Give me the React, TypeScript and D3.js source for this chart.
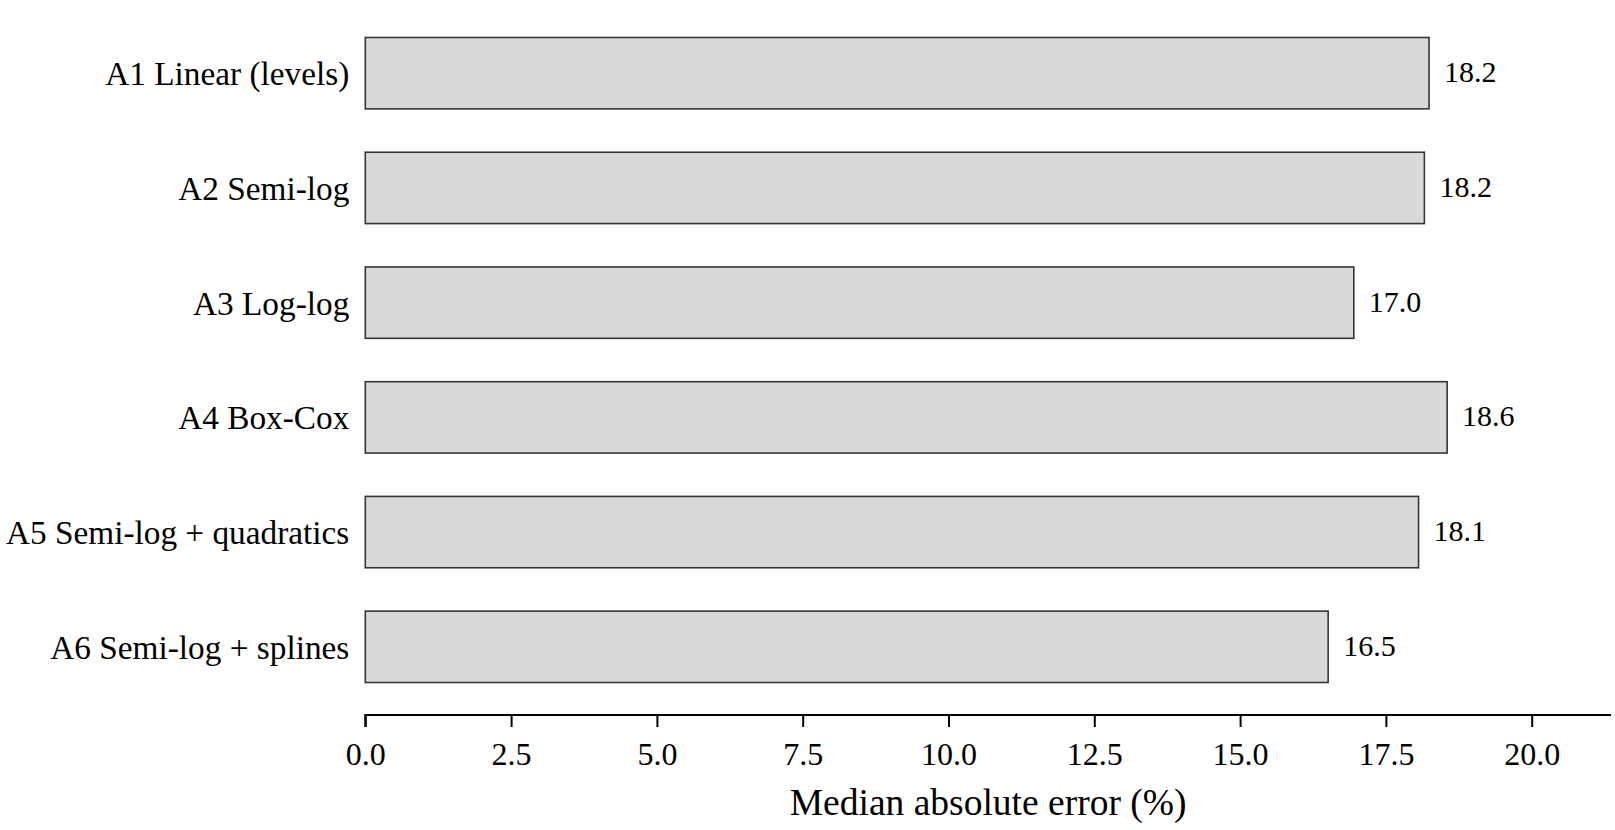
import React, { useEffect, useRef } from "react";
import * as d3 from "d3";

const categories = [
  "A1 Linear (levels)",
  "A2 Semi-log",
  "A3 Log-log",
  "A4 Box-Cox",
  "A5 Semi-log + quadratics",
  "A6 Semi-log + splines",
];
const values = [18.24, 18.16, 16.95, 18.55, 18.06, 16.51];
const valueLabels = ["18.2", "18.2", "17.0", "18.6", "18.1", "16.5"];
const xTicks = [0, 2.5, 5, 7.5, 10, 12.5, 15, 17.5, 20];
const xTitle = "Median absolute error (%)";

const W = 1615;
const H = 830;
const FONT = "'Liberation Serif', 'Times New Roman', serif";

export default function App() {
  const ref = useRef<SVGSVGElement | null>(null);

  useEffect(() => {
    const svg = d3.select(ref.current);
    svg.selectAll("*").remove();

    const x = d3.scaleLinear().domain([0, 21.36]).range([365.3, 1611]);
    const y = d3
      .scaleBand<string>()
      .domain(categories)
      .range([37.5, 682.5])
      .paddingInner(0.378)
      .paddingOuter(0);

    const data = categories.map((c, i) => ({ c, v: values[i], l: valueLabels[i] }));

    svg
      .append("g")
      .selectAll("rect")
      .data(data)
      .join("rect")
      .attr("x", x(0))
      .attr("y", (d) => y(d.c)!)
      .attr("width", (d) => x(d.v) - x(0))
      .attr("height", y.bandwidth())
      .attr("fill", "#d9d9d9")
      .attr("stroke", "#363636")
      .attr("stroke-width", 1.6);

    svg
      .append("g")
      .selectAll("text")
      .data(data)
      .join("text")
      .attr("x", (d) => x(d.v) + 15)
      .attr("y", (d) => y(d.c)! + y.bandwidth() / 2)
      .attr("dy", "0.3em")
      .attr("font-family", FONT)
      .attr("font-size", 30)
      .attr("fill", "#000")
      .text((d) => d.l);

    svg
      .append("g")
      .selectAll("text")
      .data(data)
      .join("text")
      .attr("x", x(0) - 16)
      .attr("y", (d) => y(d.c)! + y.bandwidth() / 2)
      .attr("dy", "0.36em")
      .attr("text-anchor", "end")
      .attr("font-family", FONT)
      .attr("font-size", 33.3)
      .attr("fill", "#000")
      .text((d) => d.c);

    const axis = d3
      .axisBottom(x)
      .tickValues(xTicks)
      .tickFormat((d) => d3.format(".1f")(d as number))
      .tickSize(12)
      .tickSizeOuter(12)
      .tickPadding(15);

    const gx = svg.append("g").attr("transform", "translate(0,715)").call(axis);
    gx.select(".domain").attr("stroke", "#000").attr("stroke-width", 2).attr("d", `M${x(0)},12V0H${x.range()[1]}`);
    gx.selectAll(".tick line").attr("stroke", "#000").attr("stroke-width", 2);
    gx.selectAll(".tick text")
      .attr("font-family", FONT)
      .attr("font-size", 32)
      .attr("fill", "#000");

    svg
      .append("text")
      .attr("x", (x(0) + x.range()[1]) / 2)
      .attr("y", 815)
      .attr("text-anchor", "middle")
      .attr("font-family", FONT)
      .attr("font-size", 37.5)
      .attr("fill", "#000")
      .text(xTitle);
  }, []);

  return (
    <svg
      ref={ref}
      width={W}
      height={H}
      style={{ position: "absolute", left: 0, top: 0, background: "#fff", display: "block" }}
    />
  );
}
